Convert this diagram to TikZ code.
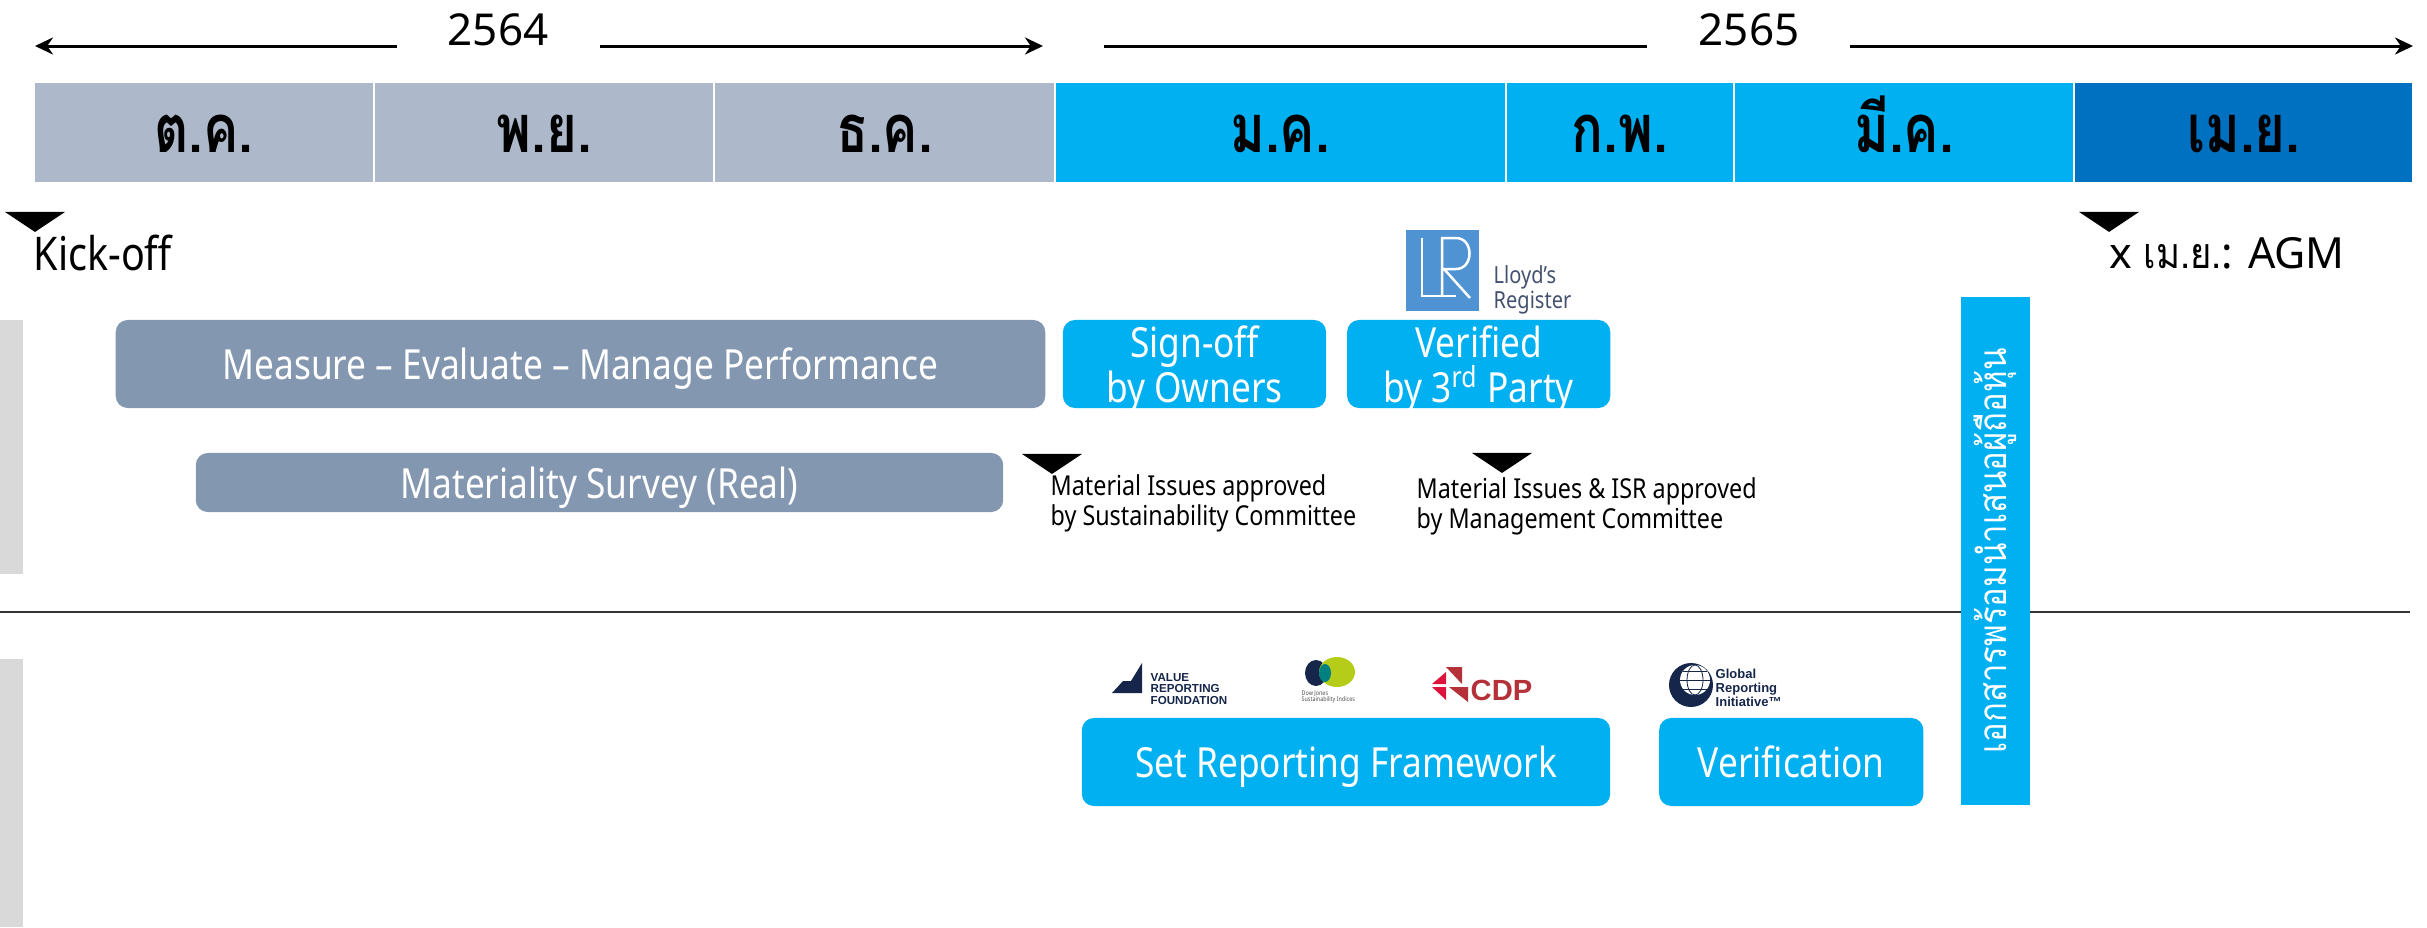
\documentclass[tikz,border=0pt]{standalone}
\usepackage{fontspec}
\setmainfont[FakeStretch=0.85]{Noto Sans}
\newfontfamily\yearfont{Noto Sans}
\newfontfamily\logofont{Liberation Sans}
\newfontfamily\thaifont[Script=Thai, FakeStretch=0.85]{Loma}
\newfontfamily\monthfont[Script=Thai, FakeStretch=0.79]{Loma}
\usepackage{xcolor}
\definecolor{month_gray}{HTML}{ADB9CA}
\definecolor{month_blue}{HTML}{00B0F0}
\definecolor{month_dark}{HTML}{0070C0}
\definecolor{task_gray}{HTML}{8497B0}
\definecolor{band_gray}{HTML}{D9D9D9}
\definecolor{lr_blue}{HTML}{5093D3}
\definecolor{logo_navy}{HTML}{15264A}
\definecolor{cdp_red}{HTML}{B5313A}
\definecolor{cdp_pink}{HTML}{DC143C}
\definecolor{lime_green}{HTML}{B5CC18}
\usetikzlibrary{positioning, shapes.geometric, arrows.meta}
\tikzstyle{month} = [
    rectangle, minimum height=0.99cm, inner sep=0cm, outer sep=0cm,
    text height=0.45cm, text depth=0.06cm,
    text=black, font=\fontsize{19}{19}\selectfont\monthfont\bfseries,
]
\tikzstyle{task} = [
    rectangle, rounded corners=0.12cm, align=center, inner sep=0cm, outer sep=0cm,
    text depth=0cm, text=white, font=\fontsize{11.8}{12.8}\selectfont,
]
\tikzstyle{marker} = [
    isosceles triangle, shape border rotate=-90, isosceles triangle stretches,
    minimum width=0.6cm, minimum height=0.2cm, inner sep=0cm, fill=black,
]
\tikzstyle{note} = [anchor=west, inner sep=0cm, align=left, font=\fontsize{7.8}{8.5}\selectfont]
\tikzstyle{arrow} = [line width=0.3mm, -{Stealth[length=1.8mm, width=1.7mm]}]
\begin{document}
\begin{tikzpicture}[x=0.01cm, y=-0.01cm]
    \useasboundingbox (0,0) rectangle (2427,927);

    % side bands and divider
    \fill[band_gray] (0,320) rectangle (23,574);
    \fill[band_gray] (0,659) rectangle (23,927);
    \coordinate (divider_left) at (0,612);
    \coordinate (divider_right) at (2410,612);
    \draw[line width=0.15mm, black!80] (divider_left) to (divider_right);

    % year labels
    \node[font=\fontsize{12.5}{12.5}\selectfont\yearfont] (year_2564) at (498,30) {2564};
    \node[font=\fontsize{12.5}{12.5}\selectfont\yearfont] (year_2565) at (1749,30) {2565};
    \coordinate (anchor1) at (397,46);
    \coordinate (anchor2) at (35,46);
    \coordinate (anchor3) at (600,46);
    \coordinate (anchor4) at (1043,46);
    \coordinate (anchor5) at (1647,46);
    \coordinate (anchor6) at (1104,46);
    \coordinate (anchor7) at (1850,46);
    \coordinate (anchor8) at (2413,46);
    \draw[arrow] (anchor1) to (anchor2);
    \draw[arrow] (anchor3) to (anchor4);
    \draw[line width=0.3mm] (anchor5) to (anchor6);
    \draw[arrow] (anchor7) to (anchor8);

    % month nodes
    \node[month, anchor=north west, minimum width=3.38cm, fill=month_gray] (month_oct) at (35,83) {ต.ค.};
    \node[month, minimum width=3.38cm, fill=month_gray] (month_nov) [right=0.02cm of month_oct] {พ.ย.};
    \node[month, minimum width=3.38cm, fill=month_gray] (month_dec) [right=0.02cm of month_nov] {ธ.ค.};
    \node[month, minimum width=4.49cm, fill=month_blue] (month_jan) [right=0.02cm of month_dec] {ม.ค.};
    \node[month, minimum width=2.26cm, fill=month_blue] (month_feb) [right=0.02cm of month_jan] {ก.พ.};
    \node[month, minimum width=3.38cm, fill=month_blue] (month_mar) [right=0.02cm of month_feb] {มี.ค.};
    \node[month, minimum width=3.37cm, fill=month_dark] (month_apr) [right=0.02cm of month_mar] {เม.ย.};

    % milestones
    \node[marker] (kickoff_marker) at (35,221) {};
    \node[note, font=\fontsize{13.2}{13.2}\selectfont] (kickoff_text) at (33,253) {Kick-off};
    \node[marker] (agm_marker) at (2109,221) {};
    \node[note, font=\fontsize{12.2}{12.2}\selectfont\yearfont] (agm_text) at (2109,253) {x {\thaifont เม.ย.}: AGM};
    \node[marker] (committee_marker) at (1052,463) {};
    \node[note] (committee_text) at (1050,503) {Material Issues approved\\by Sustainability Committee};
    \node[marker] (management_marker) at (1502,462) {};
    \node[note] (management_text) at (1416,506) {Material Issues \& ISR approved\\by Management Committee};

    % task nodes
    \node[task, minimum width=9.29cm, minimum height=0.88cm, fill=task_gray] (measure) at (580.5,364) {Measure -- Evaluate -- Manage Performance};
    \node[task, minimum width=8.07cm, minimum height=0.59cm, fill=task_gray] (survey) at (599.5,482.5) {Materiality Survey (Real)};
    \node[task, minimum width=2.63cm, minimum height=0.88cm, fill=month_blue] (signoff) at (1194.5,364) {Sign-off\\by Owners};
    \node[task, minimum width=2.63cm, minimum height=0.88cm, fill=month_blue] (verified) [right=0.21cm of signoff] {Verified\\by 3\textsuperscript{rd} Party};
    \node[task, minimum width=5.28cm, minimum height=0.88cm, fill=month_blue] (framework) at (1346,762) {Set Reporting Framework};
    \node[task, minimum width=2.64cm, minimum height=0.88cm, fill=month_blue] (verification) [right=0.49cm of framework] {Verification};
    \node[task, rounded corners=0cm, rotate=90, text depth=, minimum width=5.08cm, minimum height=0.69cm, fill=month_blue, font=\fontsize{11}{11}\selectfont\thaifont] (shareholder_doc) at (1995.5,551) {เอกสารพร้อมนำเสนอผู้ถือหุ้น};

    % lloyd's register logo
    \fill[lr_blue] (1406,230) rectangle (1479,311);
    \draw[white, line width=0.25mm] (1422,238) -- (1422,296) -- (1456,296);
    \draw[white, line width=0.25mm] (1442,296) -- (1442,238) -- (1456,238) .. controls (1474,238) and (1474,269) .. (1456,269) -- (1444,269) -- (1470,298);
    \node[note, text=logo_navy!80, font=\fontsize{6.7}{7}\selectfont] (lr_text) at (1493,290) {Lloyd’s\\Register};

    % value reporting logo
    \fill[logo_navy] (1112,693) -- (1123,681) -- (1131,681) -- (1142,663) -- (1142,693) -- cycle;
    \node[note, text=logo_navy, font=\fontsize{3.3}{3.2}\selectfont\logofont\bfseries] (value_text) at (1150,689) {VALUE\\REPORTING\\FOUNDATION};

    % sustainability logo
    \fill[logo_navy] (1316,673) ellipse [x radius=11, y radius=13];
    \fill[lime_green] (1337,672) ellipse [x radius=18, y radius=15];
    \fill[teal] (1325,673) ellipse [x radius=6, y radius=9];
    \node[note, text=black!70, font=\fontsize{1.8}{1.8}\selectfont] (sustainability_text) at (1301,697) {Dow Jones\\Sustainability Indices};

    % cdp logo
    \fill[cdp_red] (1446,667) -- (1462,667) -- (1462,684) -- cycle;
    \fill[cdp_pink] (1432,684) -- (1446,672) -- (1446,684) -- cycle;
    \fill[cdp_pink] (1432,687) -- (1446,687) -- (1446,700) -- cycle;
    \fill[cdp_red] (1449,687) -- (1468,687) -- (1468,702) -- cycle;
    \node[note, text=cdp_red, font=\fontsize{8.3}{8.3}\selectfont\logofont\bfseries] (cdp_text) at (1470,690) {CDP};

    % gri logo
    \fill[logo_navy] (1691,685) circle [radius=22];
    \fill[white] (1695,680) circle [radius=15];
    \draw[logo_navy, line width=0.08mm] (1695,680) ellipse [x radius=8, y radius=15];
    \draw[logo_navy, line width=0.08mm] (1680,680) -- (1710,680);
    \draw[logo_navy, line width=0.08mm] (1683,671) -- (1707,671);
    \draw[logo_navy, line width=0.08mm] (1683,689) -- (1707,689);
    \node[note, text=logo_navy, font=\fontsize{3.7}{4}\selectfont\logofont\bfseries] (gri_text) at (1715,688) {Global\\Reporting\\Initiative™};
\end{tikzpicture}
\end{document}
